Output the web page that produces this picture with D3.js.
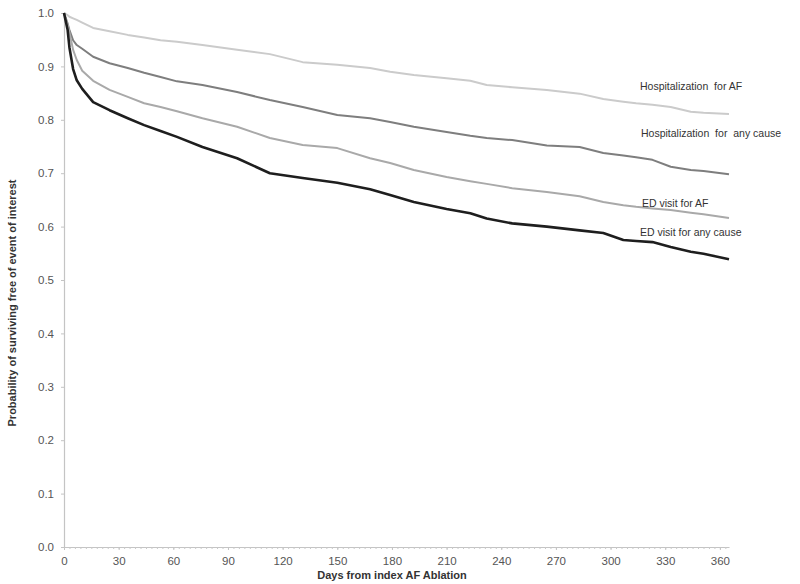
<!DOCTYPE html>
<html>
<head>
<meta charset="utf-8">
<script src="https://cdn.jsdelivr.net/npm/d3@7"></script>
<style>
  html, body { margin: 0; padding: 0; background: #fff; }
  svg { display: block; font-family: "Liberation Sans", Arial, sans-serif; }
</style>
</head>
<body>
<svg id="chart" width="800" height="584"></svg>
<script>
// ---- data ----
const days = [0, 2, 3, 5, 7, 10, 16, 25, 35, 44, 53, 62, 76, 95, 113, 131, 150, 168, 179, 192, 210, 223, 232, 246, 265, 283, 296, 307, 314, 323, 333, 344, 351, 365];
const hospAF = [1.0, 0.996, 0.993, 0.990, 0.987, 0.982, 0.972, 0.966, 0.959, 0.954, 0.949, 0.946, 0.940, 0.931, 0.923, 0.908, 0.903, 0.897, 0.890, 0.884, 0.878, 0.873, 0.865, 0.861, 0.856, 0.849, 0.839, 0.834, 0.831, 0.828, 0.824, 0.815, 0.813, 0.811];
const hospAny = [1.0, 0.980, 0.968, 0.949, 0.940, 0.933, 0.918, 0.906, 0.897, 0.888, 0.880, 0.872, 0.865, 0.852, 0.837, 0.824, 0.809, 0.803, 0.796, 0.787, 0.777, 0.770, 0.766, 0.762, 0.752, 0.749, 0.738, 0.733, 0.730, 0.725, 0.712, 0.706, 0.704, 0.698];
const edAF = [1.0, 0.978, 0.963, 0.931, 0.912, 0.892, 0.873, 0.856, 0.843, 0.831, 0.824, 0.816, 0.803, 0.787, 0.766, 0.753, 0.747, 0.728, 0.719, 0.706, 0.693, 0.685, 0.680, 0.672, 0.665, 0.657, 0.646, 0.640, 0.637, 0.634, 0.631, 0.626, 0.623, 0.616];
const edAny = [1.0, 0.968, 0.935, 0.895, 0.874, 0.858, 0.833, 0.818, 0.803, 0.790, 0.779, 0.768, 0.749, 0.728, 0.700, 0.691, 0.682, 0.670, 0.659, 0.646, 0.633, 0.625, 0.615, 0.606, 0.600, 0.593, 0.588, 0.575, 0.573, 0.571, 0.562, 0.553, 0.549, 0.539];
const seriesNames = ["Hospitalization  for AF", "Hospitalization  for  any cause", "ED visit for AF", "ED visit for any cause"];
const xTicks = [0, 30, 60, 90, 120, 150, 180, 210, 240, 270, 300, 330, 360];
const yTicks = [0.0, 0.1, 0.2, 0.3, 0.4, 0.5, 0.6, 0.7, 0.8, 0.9, 1.0];
const xTitle = "Days from index AF Ablation";
const yTitle = "Probability of surviving free of event of interest";

// ---- styles ----
const styles = [
  { color: "#cbcbcb", width: 2.0 },
  { color: "#7e7e7e", width: 2.0 },
  { color: "#a9a9a9", width: 2.0 },
  { color: "#1e1e1e", width: 2.6 }
];
const labelPos = [
  { x: 640, y: 90 },
  { x: 641, y: 137 },
  { x: 642, y: 207 },
  { x: 640, y: 236 }
];

const svg = d3.select("#chart");
const x = d3.scaleLinear().domain([0, 365]).range([64, 729]);
const y = d3.scaleLinear().domain([0, 1]).range([547, 13]);

// y axis
const yAxis = svg.append("g").attr("transform", "translate(64,0)")
  .call(d3.axisLeft(y).tickValues(yTicks).tickFormat(d3.format(".1f")).tickSize(3).tickPadding(7));
yAxis.select(".domain").attr("stroke", "#c4c4c4").attr("stroke-width", 1.2);
yAxis.selectAll(".tick line").attr("stroke", "#c4c4c4");
yAxis.selectAll("text").attr("fill", "#555").attr("font-size", 11.5);

// x axis minor ticks
const minor = d3.range(0, 366, 3);
const xMinor = svg.append("g").attr("transform", "translate(0,547)")
  .call(d3.axisBottom(x).tickValues(minor).tickFormat("").tickSize(2).tickSizeOuter(0));
xMinor.select(".domain").attr("stroke", "#c4c4c4").attr("stroke-width", 1.2);
xMinor.selectAll(".tick line").attr("stroke", "#c8c8c8");

const xAxis = svg.append("g").attr("transform", "translate(0,547)")
  .call(d3.axisBottom(x).tickValues(xTicks).tickSize(3).tickSizeOuter(0).tickPadding(7));
xAxis.select(".domain").remove();
xAxis.selectAll(".tick line").attr("stroke", "#c4c4c4");
xAxis.selectAll("text").attr("fill", "#555").attr("font-size", 11.5);

// lines
const allSeries = [hospAF, hospAny, edAF, edAny];
const line = d3.line().x((d, i) => x(days[i])).y(d => y(d)).curve(d3.curveLinear);
allSeries.forEach((vals, k) => {
  svg.append("path")
    .datum(vals)
    .attr("fill", "none")
    .attr("stroke", styles[k].color)
    .attr("stroke-width", styles[k].width)
    .attr("stroke-linejoin", "round")
    .attr("d", line);
});

// series labels
seriesNames.forEach((name, k) => {
  svg.append("text")
    .attr("x", labelPos[k].x).attr("y", labelPos[k].y)
    .attr("font-size", 10.5).attr("fill", "#333")
    .style("white-space", "pre")
    .attr("xml:space", "preserve")
    .text(name);
});

// axis titles
svg.append("text")
  .attr("x", 392).attr("y", 579)
  .attr("text-anchor", "middle")
  .attr("font-size", 11).attr("font-weight", "bold").attr("fill", "#333")
  .text(xTitle);
svg.append("text")
  .attr("transform", "translate(16,303) rotate(-90)")
  .attr("text-anchor", "middle")
  .attr("font-size", 11).attr("font-weight", "bold").attr("fill", "#333")
  .text(yTitle);
</script>
</body>
</html>
